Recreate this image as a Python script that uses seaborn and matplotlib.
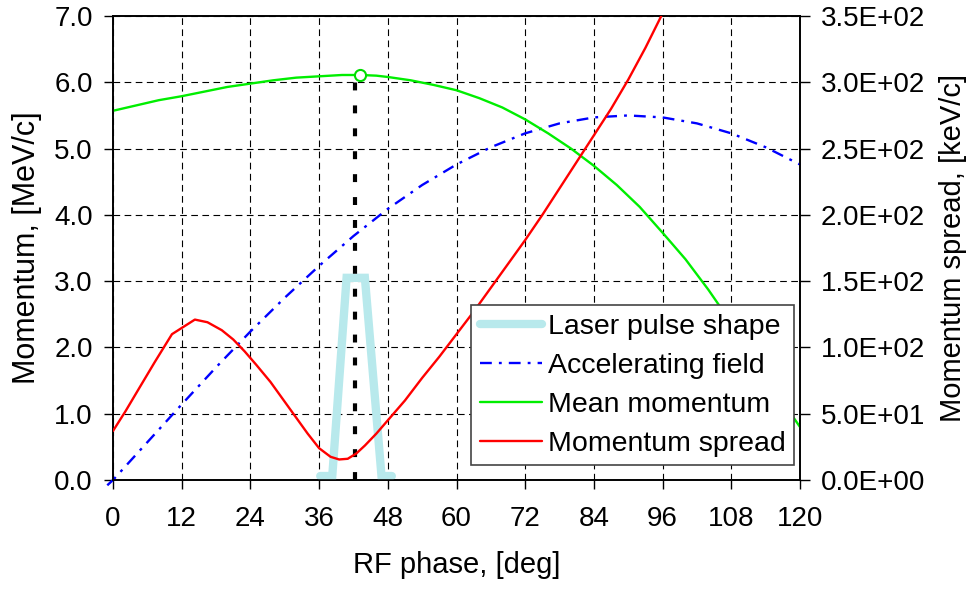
import matplotlib
matplotlib.use("Agg")
import matplotlib.pyplot as plt
import seaborn as sns

sns.set_style("white")
plt.rcParams["font.family"] = ["Liberation Sans", "DejaVu Sans"]
plt.rcParams.update({"text.color": "black", "axes.labelcolor": "black",
                     "xtick.color": "black", "ytick.color": "black"})

# ---- data -------------------------------------------------------------
# Laser pulse shape (trapezoid, plotted on the momentum axis)
laser_phase = [36.2, 38.3, 40.8, 44.0, 46.9, 48.7]
laser_level = [0.06, 0.06, 3.05, 3.05, 0.06, 0.06]

# Accelerating field, MeV/c scale
field_phase = [-1, 0, 6, 12, 18, 24, 30, 36, 42, 48, 54, 60, 66, 72, 78, 84,
               90, 96, 102, 108, 114, 120]
field_value = [-0.08, 0.0, 0.57, 1.14, 1.70, 2.24, 2.75, 3.23, 3.68, 4.09,
               4.45, 4.76, 5.02, 5.23, 5.38, 5.47, 5.50, 5.47, 5.38, 5.23,
               5.02, 4.76]

# Mean momentum, MeV/c
mean_phase = [0, 4, 8, 12, 16, 20, 24, 28, 32, 36, 40, 43.3, 46, 48, 52, 56,
              60, 64, 68, 72, 76, 80, 84, 88, 92, 96, 100, 104, 108, 112, 116,
              120]
mean_value = [5.57, 5.65, 5.73, 5.79, 5.86, 5.93, 5.98, 6.03, 6.07, 6.09,
              6.11, 6.11, 6.10, 6.08, 6.03, 5.96, 5.88, 5.76, 5.62, 5.44,
              5.23, 5.00, 4.74, 4.45, 4.12, 3.73, 3.33, 2.87, 2.37, 1.84,
              1.30, 0.80]

# Momentum spread, keV/c
spread_phase = [0, 2.2, 4.4, 7.3, 10.3, 12.3, 14.3, 16.5, 19, 21, 23, 25,
                27.5, 30, 32, 34, 36, 38, 39.5, 41, 42.5, 44, 46, 48, 51, 54,
                57, 60, 63, 66, 69, 72, 75, 78, 81, 84, 87, 90, 93, 96]
spread_value = [37, 52, 68, 89, 110, 115.5, 121, 119, 113, 106, 97, 87, 74,
                59, 47, 35, 24, 17.5, 15.5, 16, 20, 26, 35, 45, 60, 77, 93,
                110, 127, 145, 163, 181, 200, 220, 240, 260, 280, 302, 326,
                352]

# Operating point
op_phase = 43.2
op_momentum = 6.11
marker_line_phase = [42.2, 42.2]
marker_line_value = [0.0, 6.1]

labels = ["Laser pulse shape", "Accelerating field", "Mean momentum",
          "Momentum spread"]
x_ticks = [0, 12, 24, 36, 48, 60, 72, 84, 96, 108, 120]
left_ticks = [0, 1, 2, 3, 4, 5, 6, 7]
right_ticks = [0, 50, 100, 150, 200, 250, 300, 350]

# ---- figure -----------------------------------------------------------
fig = plt.figure(figsize=(9.74, 5.89), dpi=100)
ax = fig.add_axes([113 / 974, 1 - 480 / 589, 687 / 974, 464 / 589])
ax2 = ax.twinx()

common = dict(sort=False, estimator=None, legend=False)

sns.lineplot(x=laser_phase, y=laser_level, ax=ax, color="#b8e9ec",
             linewidth=6, zorder=3, **common)
laser_line = ax.lines[-1]
laser_line.set_solid_joinstyle("miter")

sns.lineplot(x=marker_line_phase, y=marker_line_value, ax=ax, color="black",
             linewidth=3, zorder=4, **common)
ax.lines[-1].set_dashes((1.9, 3.6))
ax.lines[-1].set_dash_capstyle("butt")

sns.lineplot(x=field_phase, y=field_value, ax=ax, color="#0000ff",
             linewidth=1.7, zorder=5, **common)
field_line = ax.lines[-1]
field_line.set_dashes((5, 3, 1.2, 3))
field_line.set_clip_on(False)

sns.lineplot(x=mean_phase, y=mean_value, ax=ax, color="#00ee00",
             linewidth=1.7, zorder=5, **common)
mean_line = ax.lines[-1]

ax.plot([op_phase], [op_momentum], marker="o", markersize=8,
        markerfacecolor="white", markeredgecolor="#00dd00",
        markeredgewidth=1.5, linestyle="none", zorder=6)

sns.lineplot(x=spread_phase, y=spread_value, ax=ax2, color="#ff0000",
             linewidth=1.7, zorder=5, **common)
spread_line = ax2.lines[-1]

# ---- axes -------------------------------------------------------------
ax.set_xlim(0, 120)
ax.set_ylim(0, 7)
ax2.set_ylim(0, 350)

ax.set_xticks(x_ticks)
ax.set_xticklabels([str(t) for t in x_ticks])
ax.set_yticks(left_ticks)
ax.set_yticklabels([f"{t:.1f}" for t in left_ticks])
ax2.set_yticks(right_ticks)
ax2.set_yticklabels([format(t, ".1E") for t in right_ticks])

ax.grid(True, color="black", linestyle=(0, (6, 4)), linewidth=0.8)
ax2.grid(False)
ax.set_axisbelow(True)

for a in (ax, ax2):
    for s in a.spines.values():
        s.set_visible(True)
        s.set_color("black")
        s.set_linewidth(1.2)

ax.tick_params(axis="x", direction="out", length=6.5, width=1, pad=12,
               labelsize=20, bottom=True, colors="black")
ax.tick_params(axis="y", direction="out", length=6.5, width=1, pad=8,
               labelsize=20, left=True, colors="black")
ax2.tick_params(axis="y", direction="out", length=7, width=1, pad=8,
                labelsize=20, right=True, colors="black")

ax.set_xlabel("RF phase, [deg]", fontsize=21, labelpad=14, color="black")
ax.set_ylabel("Momentum, [MeV/c]", fontsize=22, labelpad=9, color="black")
ax2.set_ylabel("Momentum spread, [keV/c]", fontsize=21, labelpad=10,
               color="black")

leg = ax2.legend([laser_line, field_line, mean_line, spread_line], labels,
                 loc="upper left", bbox_to_anchor=(471 / 974, 1 - 305 / 589),
                 bbox_transform=fig.transFigure, fontsize=20.5, frameon=True,
                 fancybox=False, edgecolor="#444444", framealpha=1,
                 borderpad=0.3, labelspacing=0.46, handlelength=2.2,
                 handletextpad=0.2, borderaxespad=0, labelcolor="black")
leg.get_frame().set_linewidth(1.2)
leg.set_zorder(10)

fig.savefig("out.png", dpi=100)
